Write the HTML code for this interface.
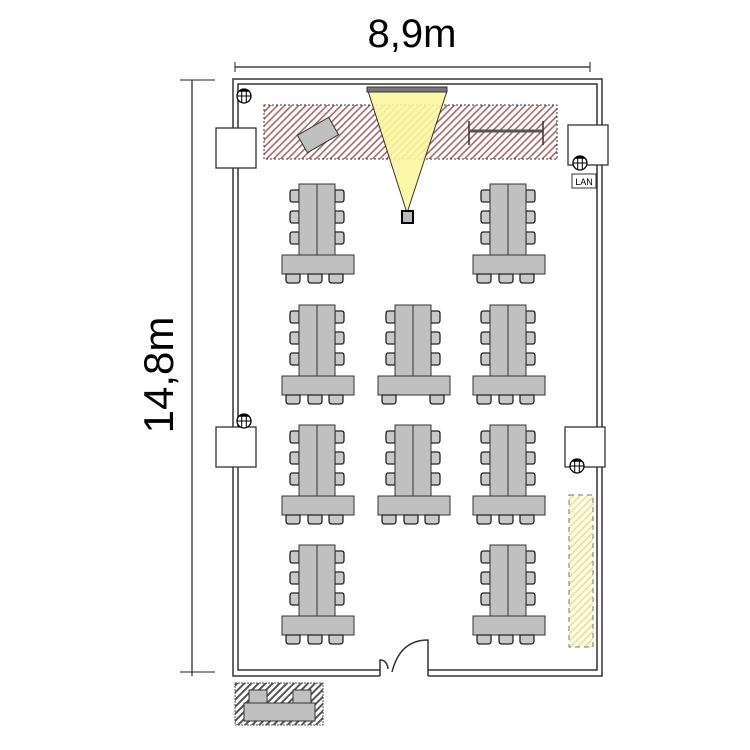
<!DOCTYPE html>
<html><head><meta charset="utf-8"><style>body{margin:0;background:#fff}svg{display:block}</style></head>
<body>
<svg width="750" height="750" viewBox="0 0 750 750" xmlns="http://www.w3.org/2000/svg">
<defs>
<pattern id="hr" patternUnits="userSpaceOnUse" width="5" height="5" patternTransform="rotate(45)">
<rect width="5" height="5" fill="#fff"/><rect width="1.6" height="5" fill="#a86868"/></pattern>
<pattern id="hy" patternUnits="userSpaceOnUse" width="5" height="5" patternTransform="rotate(45)">
<rect width="5" height="5" fill="#fffbe0"/><rect width="1.5" height="5" fill="#e6e0a0"/></pattern>
<pattern id="hg" patternUnits="userSpaceOnUse" width="5" height="5" patternTransform="rotate(45)">
<rect width="5" height="5" fill="#fff"/><rect width="2" height="5" fill="#555"/></pattern>
<g id="chairL"><path d="M9,0 H2 Q0,0 0,3 V9 Q0,12 2,12 H9 Z" fill="#c8c8c8" stroke="#222" stroke-width="1.3"/></g>
<g id="chairR"><path d="M0,0 H7 Q9,0 9,3 V9 Q9,12 7,12 H0 Z" fill="#c8c8c8" stroke="#222" stroke-width="1.3"/></g>
<g id="chairB"><path d="M0,0 H14 V6 Q14,9 11,9 H3 Q0,9 0,6 Z" fill="#c8c8c8" stroke="#222" stroke-width="1.3"/></g>
<g id="grpBase">
<use href="#chairL" x="8" y="6"/><use href="#chairL" x="8" y="27"/><use href="#chairL" x="8" y="48"/>
<use href="#chairR" x="53" y="6"/><use href="#chairR" x="53" y="27"/><use href="#chairR" x="53" y="48"/>
<rect x="17" y="0" width="18" height="71" fill="#c0c0c0" stroke="#333"/>
<rect x="35" y="0" width="18" height="71" fill="#c0c0c0" stroke="#333"/>
<rect x="0" y="71" width="72" height="19" fill="#c0c0c0" stroke="#333"/>
</g>
<g id="grp"><use href="#grpBase"/><use href="#chairB" x="4" y="90"/><use href="#chairB" x="26" y="90"/><use href="#chairB" x="47" y="90"/></g>
<g id="grp2"><use href="#grpBase"/><use href="#chairB" x="4" y="90"/><use href="#chairB" x="52" y="90"/></g>
<g id="outlet"><circle r="7" fill="#fff" stroke="#000" stroke-width="1.3"/><path d="M-5.5,-4.3 A7,7 0 0 1 5.5,-4.3 Z" fill="#000"/><line x1="-7" y1="0" x2="7" y2="0" stroke="#000"/><line x1="-2.3" y1="-6" x2="-2.3" y2="6.5" stroke="#000"/><line x1="2.3" y1="-6" x2="2.3" y2="6.5" stroke="#000"/></g>
</defs>

<text x="412" y="47" font-family="Liberation Sans, sans-serif" font-size="40" text-anchor="middle">8,9m</text>
<line x1="235" y1="67" x2="590" y2="67" stroke="#222" stroke-width="1.2"/>
<line x1="235" y1="62" x2="235" y2="72" stroke="#222"/><line x1="590" y1="62" x2="590" y2="72" stroke="#222"/>
<line x1="192" y1="80" x2="192" y2="676" stroke="#222" stroke-width="1.2"/>
<line x1="180" y1="80" x2="215" y2="80" stroke="#222"/><line x1="180" y1="672" x2="215" y2="672" stroke="#222"/>
<text transform="translate(173,375) rotate(-90)" font-family="Liberation Sans, sans-serif" font-size="42" text-anchor="middle">14,8m</text>

<g fill="none" stroke="#333" stroke-width="1.5">
<path d="M380,676 H233 V79 H602 V676 H428"/>
<path d="M380,670 H238 V84 H597 V670 H428"/>
<path d="M380,676 V660 Q387,660 388,669"/>
<path d="M428,676 V640 Q400,640 392,672"/>
</g>
<g fill="#fff" stroke="#333" stroke-width="1.3">
<rect x="216" y="128" width="40" height="40"/>
<rect x="216" y="427" width="40" height="40"/>
<rect x="568" y="125" width="40" height="40"/>
<rect x="565" y="427" width="40" height="40"/>
</g>

<rect x="264" y="105" width="293" height="54" fill="url(#hr)" stroke="#333" stroke-dasharray="2,2"/>
<rect x="300" y="125" width="36" height="20" fill="#c0c0c0" stroke="#333" transform="rotate(-30 318 135)"/>
<line x1="470" y1="131" x2="543" y2="131" stroke="#555" stroke-width="3"/>
<line x1="469" y1="121" x2="469" y2="145" stroke="#333" stroke-width="1.5"/>
<line x1="543" y1="121" x2="543" y2="145" stroke="#333" stroke-width="1.5"/>
<polygon points="368,91 447,91 407,213" fill="#fcf7a0" fill-opacity="0.9" stroke="#333"/>
<rect x="367" y="87" width="80" height="5" fill="#777" stroke="#333"/>
<rect x="402" y="211" width="11" height="12" fill="#bbb" stroke="#000" stroke-width="2"/>

<use href="#outlet" x="244" y="96"/>
<use href="#outlet" x="580" y="163"/>
<use href="#outlet" x="244" y="421"/>
<use href="#outlet" x="577" y="466"/>
<rect x="572" y="174" width="24" height="14" fill="#fff" stroke="#333"/>
<text x="584" y="185" font-family="Liberation Sans, sans-serif" font-size="9" text-anchor="middle">LAN</text>

<use href="#grp" x="282" y="184"/><use href="#grp" x="473" y="184"/>
<use href="#grp" x="282" y="305"/><use href="#grp2" x="378" y="305"/><use href="#grp" x="473" y="305"/>
<use href="#grp" x="282" y="425"/><use href="#grp" x="378" y="425"/><use href="#grp" x="473" y="425"/>
<use href="#grp" x="282" y="545"/><use href="#grp" x="473" y="545"/>

<rect x="569" y="495" width="24" height="152" fill="url(#hy)" stroke="#777" stroke-dasharray="5,4"/>

<rect x="235" y="683" width="88" height="42" fill="url(#hg)" stroke="#555" stroke-dasharray="2,1"/>
<rect x="249" y="690" width="18" height="15" fill="#c0c0c0" stroke="#333"/>
<rect x="293" y="690" width="18" height="15" fill="#c0c0c0" stroke="#333"/>
<rect x="244" y="703" width="71" height="18" fill="#c0c0c0" stroke="#333"/>
</svg>
</body></html>
